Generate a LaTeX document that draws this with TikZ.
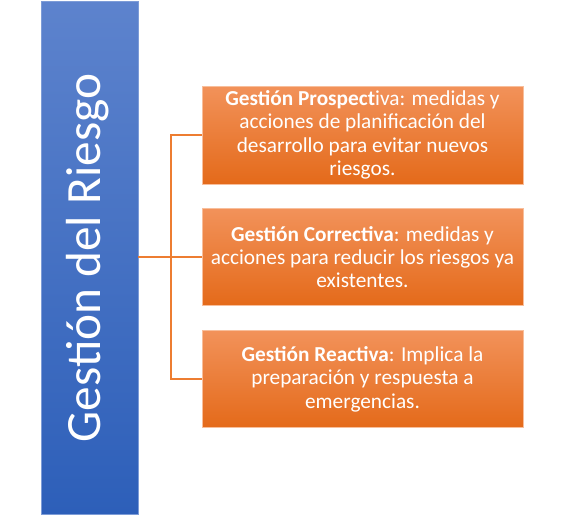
\documentclass[tikz,border=0pt]{standalone}
\usepackage{fontspec}
\setmainfont{Carlito}
\definecolor{bluetop}{RGB}{93,131,205}
\definecolor{bluebot}{RGB}{45,95,185}
\definecolor{orgtop}{RGB}{242,146,90}
\definecolor{orgbot}{RGB}{228,106,26}
\definecolor{orgline}{RGB}{237,125,49}
\definecolor{orgedge}{RGB}{248,190,155}
\begin{document}
\begin{tikzpicture}[x=1pt,y=-1pt,
  mainbar/.style={rectangle, draw=bluetop!80!white, line width=0.6pt, top color=bluetop, bottom color=bluebot, minimum width=97pt, minimum height=513pt, inner sep=0pt},
  itembox/.style={rectangle, draw=orgedge, line width=0.7pt, top color=orgtop, bottom color=orgbot, minimum width=321pt, minimum height=97pt, inner sep=0pt, text=white, align=center, font=\fontsize{21.3pt}{23.4pt}\selectfont},
  link/.style={draw=orgline, line width=1.2pt}]
\useasboundingbox (0,0) rectangle (564,515);
\node[mainbar] (bar) at (89.5,257.5) {};
\node[rotate=90, text=white, font=\fontsize{49.3pt}{55pt}\selectfont] (title) at (88,258) {Gestión del Riesgo};
\node[itembox, minimum height=98pt] (b1) at (362.5,135) {\textbf{Gestión Prospect}iva: medidas y\\acciones de planificación del\\desarrollo para evitar nuevos\\riesgos.};
\node[itembox] (b2) at (362.5,257) {\textbf{Gestión Correctiva}: medidas y\\acciones para reducir los riesgos ya\\existentes.};
\node[itembox] (b3) at (362.5,379) {\textbf{Gestión Reactiva}: Implica la\\preparación y respuesta a\\emergencias.};
\coordinate (j) at (171,257);
\draw[link] (bar.east |- j) -- (j);
\draw[link] (b1.west) -| (j);
\draw[link] (b3.west) -| (j);
\draw[link] (j) -- (b2.west);
\end{tikzpicture}
\end{document}
